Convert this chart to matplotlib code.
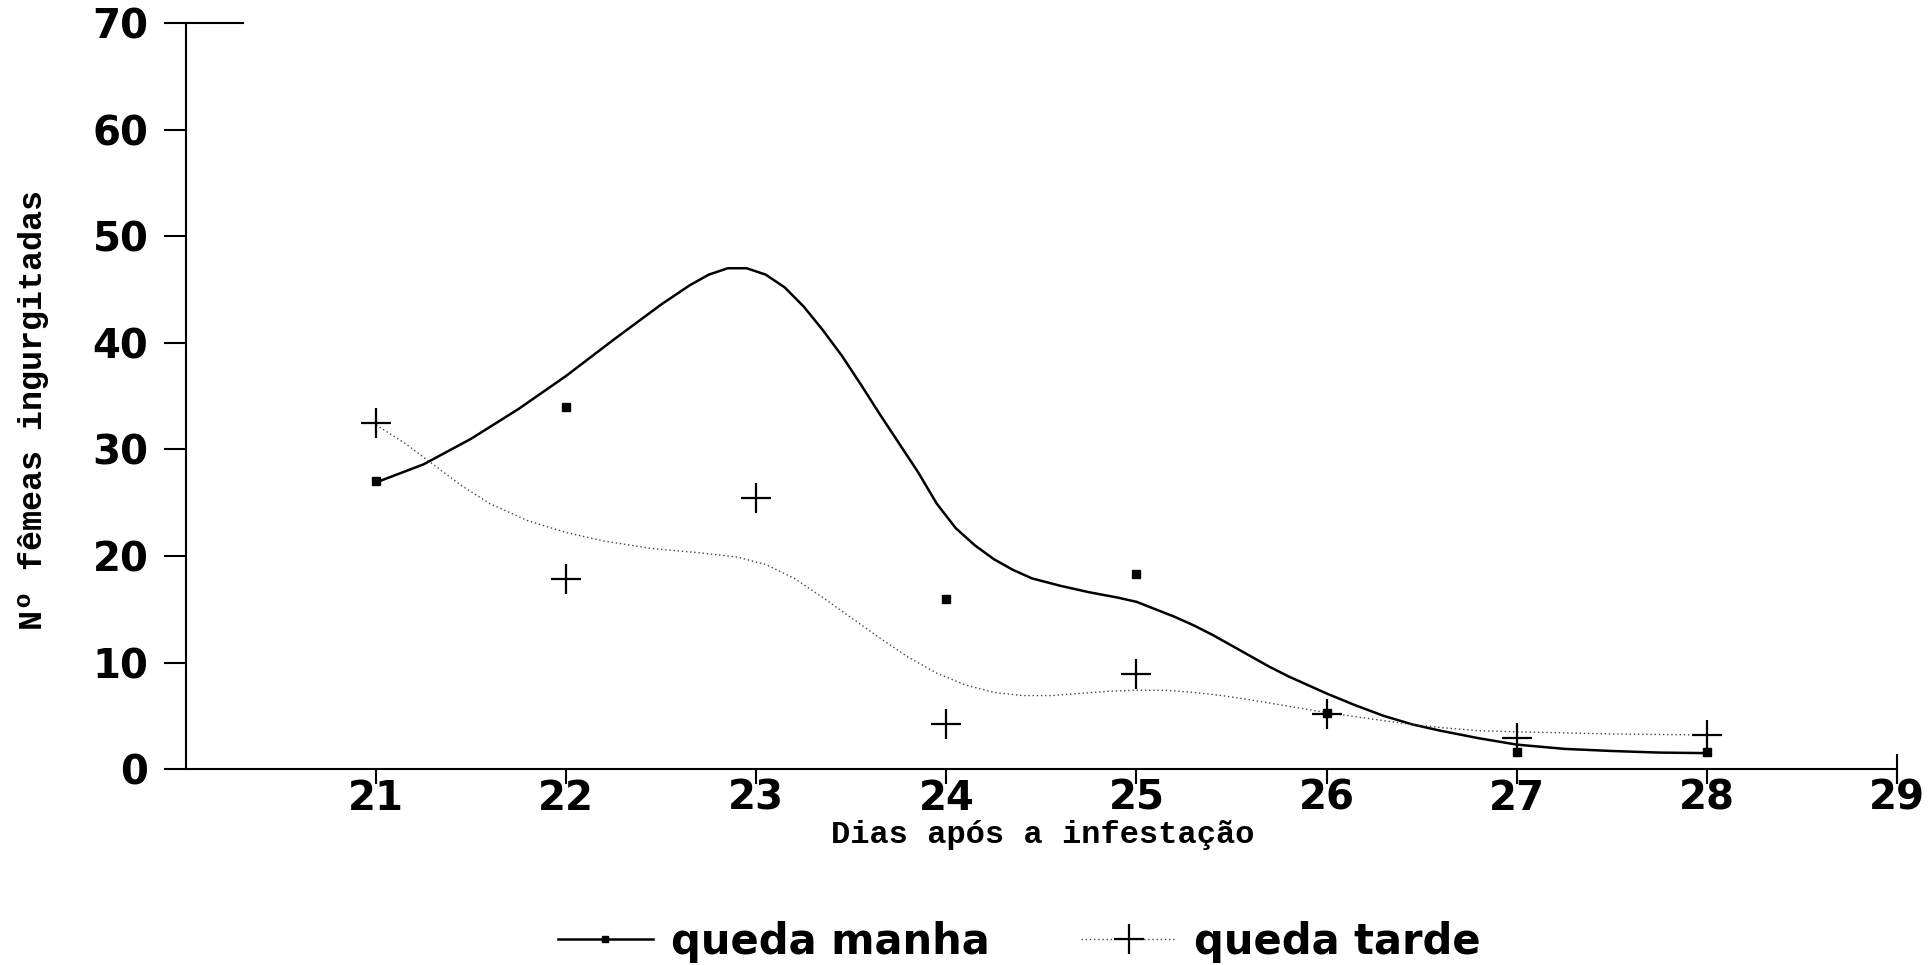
import numpy as np
import matplotlib.pyplot as plt
from matplotlib.lines import Line2D

# dias após a infestação
dias = [21, 22, 23, 24, 25, 26, 27, 28]

# observações (queda manha sem ponto visível no dia 23)
manha = [27, 34, np.nan, 16, 18.3, 5.3, 1.6, 1.6]
tarde = [32.5, 17.8, 25.4, 4.2, 8.9, 5.2, 2.9, 3.2]

# curvas ajustadas
curva_manha_x = [21.0, 21.25, 21.5, 21.75, 22.0, 22.25, 22.5, 22.65, 22.75, 22.85,
                 22.95, 23.05, 23.15, 23.25, 23.35, 23.45, 23.55, 23.65, 23.75, 23.85,
                 23.95, 24.05, 24.15, 24.25, 24.35, 24.45, 24.6, 24.75, 24.9, 25.0,
                 25.1, 25.2, 25.3, 25.4, 25.5, 25.6, 25.7, 25.8, 25.9, 26.0,
                 26.15, 26.3, 26.45, 26.6, 26.8, 27.0, 27.25, 27.5, 27.75, 28.0]
curva_manha_y = [26.9, 28.6, 31.0, 33.8, 36.9, 40.3, 43.6, 45.4, 46.4, 47.0,
                 47.0, 46.4, 45.2, 43.4, 41.2, 38.8, 36.1, 33.3, 30.6, 27.9,
                 24.9, 22.6, 21.0, 19.7, 18.7, 17.9, 17.2, 16.6, 16.1, 15.7,
                 15.0, 14.3, 13.5, 12.6, 11.6, 10.6, 9.6, 8.7, 7.9, 7.1,
                 6.0, 5.0, 4.2, 3.6, 2.9, 2.3, 1.9, 1.7, 1.55, 1.5]

curva_tarde_x = [21.0, 21.15, 21.3, 21.45, 21.6, 21.8, 22.0, 22.2, 22.45, 22.7,
                 22.9, 23.05, 23.2, 23.35, 23.5, 23.65, 23.8, 23.95, 24.1, 24.25,
                 24.4, 24.55, 24.7, 24.85, 25.0, 25.15, 25.3, 25.45, 25.6, 25.8,
                 26.0, 26.2, 26.4, 26.6, 26.8, 27.0, 27.25, 27.5, 27.75, 28.0]
curva_tarde_y = [32.3, 30.6, 28.6, 26.6, 24.9, 23.3, 22.2, 21.4, 20.7, 20.3,
                 19.9, 19.2, 17.9, 16.1, 14.2, 12.3, 10.5, 9.0, 7.9, 7.2,
                 6.9, 6.9, 7.1, 7.3, 7.4, 7.4, 7.2, 6.9, 6.5, 5.9,
                 5.3, 4.8, 4.3, 3.9, 3.6, 3.5, 3.4, 3.3, 3.25, 3.2]

xticks = [21, 22, 23, 24, 25, 26, 27, 28, 29]
yticks = [0, 10, 20, 30, 40, 50, 60, 70]

fig = plt.figure(figsize=(19.31, 9.65), dpi=100)
ax = fig.add_axes([0.0963, 0.203, 0.886, 0.773])

# curvas
ax.plot(curva_manha_x, curva_manha_y, color='black', lw=1.8,
        solid_joinstyle='round', solid_capstyle='round')
ax.plot(curva_tarde_x, curva_tarde_y, color='#444444', lw=1.0, ls=(0, (1, 2)))

# pontos
ax.plot(dias, manha, ls='none', marker='s', ms=6, color='black')
ax.plot(dias, tarde, ls='none', marker='+', ms=22, mew=1.6, color='black')

ax.set_xlim(20, 29)
ax.set_ylim(0, 70)
ax.set_xticks(xticks)
ax.set_yticks(yticks)

for s in ['top', 'right']:
    ax.spines[s].set_visible(False)
for s in ['left', 'bottom']:
    ax.spines[s].set_linewidth(1.5)

ax.tick_params(axis='x', direction='out', length=11, width=1.5, pad=-4)
ax.tick_params(axis='y', direction='out', length=16, width=1.5, pad=11)
for lab in ax.get_xticklabels() + ax.get_yticklabels():
    lab.set_fontfamily('DejaVu Sans')
    lab.set_fontweight('bold')
    lab.set_fontsize(29)

# traço no fim do eixo x e no topo do eixo y
ax.plot([29], [0], marker='|', ms=22, mew=1.5, color='black', clip_on=False)
ax.plot([20, 20.3], [70, 70], color='black', lw=1.5, clip_on=False)

ax.set_xlabel('Dias após a infestação', family='Liberation Mono', weight='bold', fontsize=23)
ax.set_ylabel('Nº fêmeas ingurgitadas', family='Liberation Mono', weight='bold', fontsize=24)
ax.xaxis.set_label_coords(0.501, -0.068)
ax.yaxis.set_label_coords(-0.080, 0.481)

handles = [
    Line2D([], [], color='black', lw=1.8, marker='s', ms=5, markevery=[1]),
    Line2D([], [], color='#444444', lw=1.0, ls=(0, (1, 2)), marker='+', ms=22,
           mew=1.6, markeredgecolor='black', markevery=[1]),
]
for h in handles:
    h.set_data([0, 0.5, 1], [0, 0, 0])
fig.legend(handles, ['queda manha', 'queda tarde'], loc='center',
           bbox_to_anchor=(0.528, 0.024), ncol=2, frameon=False,
           prop={'family': 'DejaVu Sans', 'weight': 'bold', 'size': 30},
           handlelength=2.27, handletextpad=0.44, columnspacing=2.2)

fig.savefig('out.png', dpi=100)
